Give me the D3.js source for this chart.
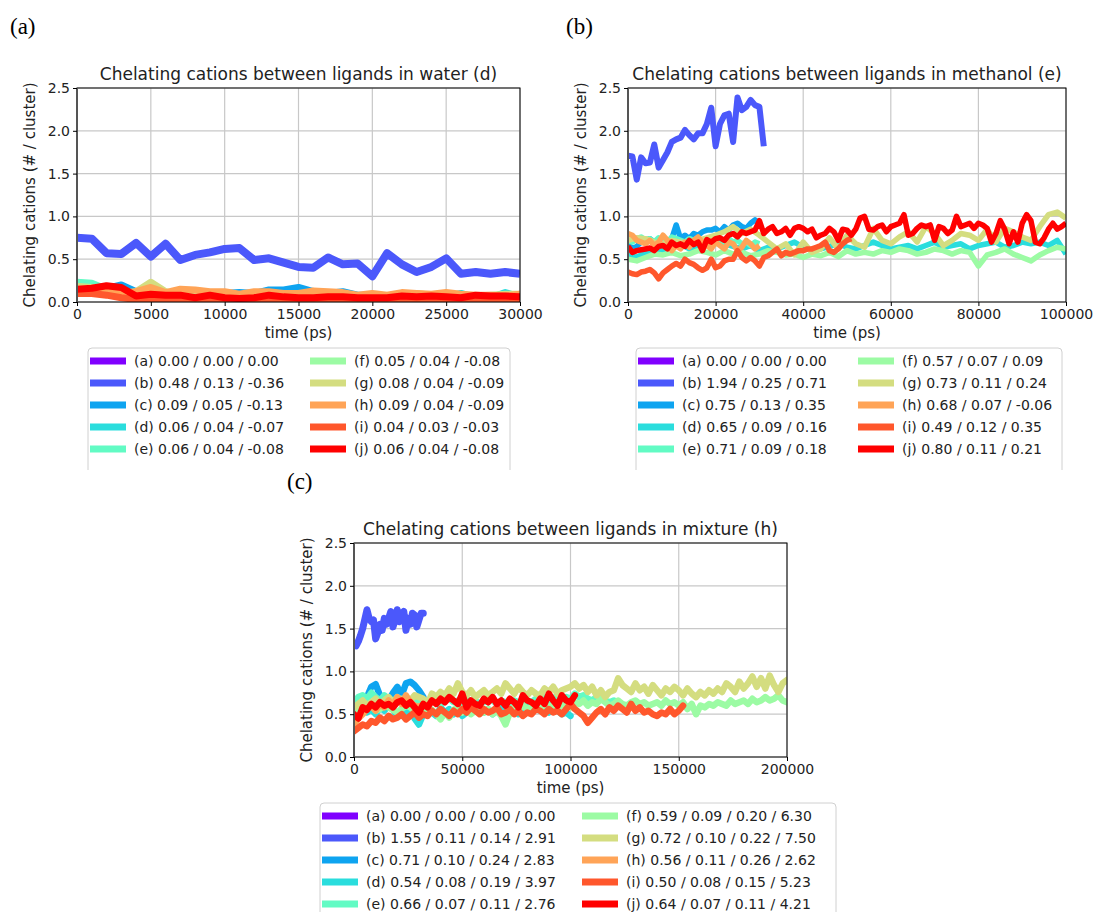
<!DOCTYPE html>
<html>
<head>
<meta charset="utf-8">
<script src="https://d3js.org/d3.v7.min.js"></script>
<style>
  body { margin: 0; background: #fff; }
  text { font-family: "DejaVu Sans", sans-serif; fill: #222; }
</style>
</head>
<body>
<div id="chart"></div>
<script>
// series names and colours (matplotlib "rainbow", 10 steps)
var series = ["a", "b", "c", "d", "e", "f", "g", "h", "i", "j"];
var colors = ["#8000ff", "#4b58fb", "#0ea4f0", "#2adddd", "#62fbc4", "#9cfba4", "#d4dd80", "#ffa457", "#ff572c", "#ff0000"];
var yTicks = [0, 0.5, 1.0, 1.5, 2.0, 2.5];

// legend texts
var legendWater = ["(a) 0.00 / 0.00 / 0.00", "(b) 0.48 / 0.13 / -0.36", "(c) 0.09 / 0.05 / -0.13", "(d) 0.06 / 0.04 / -0.07", "(e) 0.06 / 0.04 / -0.08",
  "(f) 0.05 / 0.04 / -0.08", "(g) 0.08 / 0.04 / -0.09", "(h) 0.09 / 0.04 / -0.09", "(i) 0.04 / 0.03 / -0.03", "(j) 0.06 / 0.04 / -0.08"];
var legendMethanol = ["(a) 0.00 / 0.00 / 0.00", "(b) 1.94 / 0.25 / 0.71", "(c) 0.75 / 0.13 / 0.35", "(d) 0.65 / 0.09 / 0.16", "(e) 0.71 / 0.09 / 0.18",
  "(f) 0.57 / 0.07 / 0.09", "(g) 0.73 / 0.11 / 0.24", "(h) 0.68 / 0.07 / -0.06", "(i) 0.49 / 0.12 / 0.35", "(j) 0.80 / 0.11 / 0.21"];
var legendMixture = ["(a) 0.00 / 0.00 / 0.00 / 0.00", "(b) 1.55 / 0.11 / 0.14 / 2.91", "(c) 0.71 / 0.10 / 0.24 / 2.83", "(d) 0.54 / 0.08 / 0.19 / 3.97", "(e) 0.66 / 0.07 / 0.11 / 2.76",
  "(f) 0.59 / 0.09 / 0.20 / 6.30", "(g) 0.72 / 0.10 / 0.22 / 7.50", "(h) 0.56 / 0.11 / 0.26 / 2.62", "(i) 0.50 / 0.08 / 0.15 / 5.23", "(j) 0.64 / 0.07 / 0.11 / 4.21"];

// ---- water (d): one value every 1000 ps ----
var waterStep = 1000;
var waterA = [];
var waterB = [0.75, 0.74, 0.57, 0.56, 0.69, 0.53, 0.68, 0.49, 0.55, 0.58, 0.62, 0.63, 0.49, 0.51, 0.46, 0.41, 0.40, 0.52, 0.44, 0.45, 0.30, 0.57, 0.44, 0.35, 0.41, 0.51, 0.33, 0.35, 0.33, 0.35, 0.33];
var waterC = [0.20, 0.19, 0.16, 0.20, 0.12, 0.12, 0.10, 0.08, 0.08, 0.09, 0.10, 0.11, 0.10, 0.14, 0.14, 0.17, 0.12, 0.10, 0.12, 0.08, 0.08, 0.07, 0.09, 0.08, 0.07, 0.08, 0.06, 0.07, 0.07, 0.06, 0.07];
var waterD = [0.22, 0.20, 0.14, 0.10, 0.08, 0.07, 0.06, 0.06, 0.05, 0.06, 0.05, 0.06, 0.05, 0.05, 0.04, 0.05, 0.04, 0.05, 0.05, 0.04, 0.05, 0.04, 0.05, 0.06, 0.05, 0.06, 0.10, 0.05, 0.05, 0.11, 0.06];
var waterE = [0.23, 0.22, 0.15, 0.09, 0.06, 0.06, 0.05, 0.05, 0.04, 0.05, 0.05, 0.06, 0.05, 0.04, 0.05, 0.05, 0.06, 0.05, 0.05, 0.04, 0.05, 0.05, 0.06, 0.05, 0.05, 0.04, 0.05, 0.05, 0.06, 0.05, 0.05];
var waterF = [0.18, 0.16, 0.10, 0.06, 0.05, 0.05, 0.04, 0.05, 0.04, 0.05, 0.04, 0.04, 0.05, 0.04, 0.04, 0.05, 0.04, 0.04, 0.05, 0.04, 0.04, 0.05, 0.04, 0.04, 0.05, 0.04, 0.04, 0.05, 0.04, 0.04, 0.05];
var waterG = [0.18, 0.17, 0.15, 0.10, 0.12, 0.23, 0.12, 0.08, 0.07, 0.08, 0.07, 0.06, 0.07, 0.06, 0.06, 0.05, 0.07, 0.06, 0.06, 0.05, 0.07, 0.06, 0.09, 0.10, 0.08, 0.07, 0.06, 0.07, 0.08, 0.09, 0.09];
var waterH = [0.12, 0.12, 0.14, 0.10, 0.12, 0.17, 0.11, 0.15, 0.14, 0.12, 0.12, 0.09, 0.12, 0.12, 0.10, 0.10, 0.13, 0.12, 0.11, 0.08, 0.10, 0.08, 0.11, 0.10, 0.09, 0.11, 0.09, 0.08, 0.08, 0.07, 0.09];
var waterI = [0.10, 0.10, 0.08, 0.05, 0.03, 0.03, 0.02, 0.03, 0.02, 0.03, 0.03, 0.02, 0.02, 0.03, 0.03, 0.04, 0.03, 0.03, 0.02, 0.03, 0.03, 0.04, 0.03, 0.03, 0.04, 0.03, 0.03, 0.04, 0.03, 0.03, 0.03];
var waterJ = [0.15, 0.16, 0.19, 0.17, 0.07, 0.09, 0.08, 0.08, 0.05, 0.08, 0.05, 0.04, 0.05, 0.08, 0.06, 0.05, 0.05, 0.06, 0.06, 0.05, 0.05, 0.05, 0.07, 0.06, 0.07, 0.06, 0.05, 0.08, 0.07, 0.07, 0.06];

// ---- methanol (e) ----
var methStep1 = 1000;   // b, c, e, h, i, j
var methStep2 = 2000;   // d, f, g
var methA = [];
var methB = [1.71, 1.70, 1.43, 1.69, 1.62, 1.63, 1.84, 1.57, 1.66, 1.75, 1.87, 1.90, 1.92, 2.01, 1.95, 1.90, 1.97, 1.97, 2.08, 2.27, 1.82, 2.08, 2.18, 2.20, 1.87, 2.39, 2.24, 2.28, 2.36, 2.30, 2.28, 1.82];
var methC = [0.68, 0.62, 0.65, 0.70, 0.72, 0.74, 0.70, 0.72, 0.75, 0.70, 0.74, 0.90, 0.74, 0.78, 0.74, 0.80, 0.78, 0.82, 0.84, 0.84, 0.86, 0.82, 0.88, 0.84, 0.90, 0.92, 0.88, 0.86, 0.92, 0.96, 0.92];
var methD = [0.55, 0.52, 0.58, 0.62, 0.60, 0.64, 0.68, 0.62, 0.66, 0.70, 0.72, 0.68, 0.65, 0.62, 0.66, 0.60, 0.64, 0.62, 0.66, 0.70, 0.64, 0.60, 0.62, 0.65, 0.68, 0.64, 0.62, 0.66, 0.70, 0.66, 0.62, 0.64, 0.66, 0.62, 0.66, 0.70, 0.64, 0.66, 0.68, 0.62, 0.66, 0.68, 0.70, 0.64, 0.66, 0.70, 0.68, 0.70, 0.66, 0.72, 0.56];
var methE = [0.72, 0.70, 0.74, 0.76, 0.72, 0.74, 0.70, 0.75, 0.72, 0.70, 0.76, 0.74, 0.72, 0.70, 0.74, 0.72, 0.70, 0.68, 0.72, 0.70, 0.68, 0.72, 0.70, 0.74, 0.70, 0.72, 0.68, 0.70, 0.66, 0.70, 0.68];
var methF = [0.50, 0.48, 0.52, 0.56, 0.55, 0.58, 0.54, 0.56, 0.60, 0.58, 0.55, 0.60, 0.56, 0.58, 0.54, 0.56, 0.60, 0.58, 0.55, 0.56, 0.52, 0.56, 0.54, 0.58, 0.53, 0.60, 0.56, 0.58, 0.56, 0.60, 0.58, 0.62, 0.60, 0.56, 0.58, 0.62, 0.60, 0.56, 0.60, 0.58, 0.42, 0.55, 0.58, 0.62, 0.56, 0.52, 0.48, 0.55, 0.60, 0.64, 0.62];
var methG = [0.72, 0.75, 0.74, 0.70, 0.68, 0.72, 0.70, 0.66, 0.72, 0.75, 0.78, 0.82, 0.88, 0.80, 0.85, 0.78, 0.70, 0.62, 0.68, 0.55, 0.70, 0.58, 0.62, 0.75, 0.62, 0.78, 0.68, 0.64, 0.86, 0.72, 0.68, 0.76, 0.82, 0.70, 0.88, 0.80, 0.66, 0.72, 0.80, 0.78, 0.72, 0.85, 0.70, 0.86, 0.82, 0.76, 0.72, 0.88, 1.02, 1.05, 0.98];
var methH = [0.80, 0.78, 0.72, 0.70, 0.68, 0.72, 0.66, 0.70, 0.78, 0.72, 0.60, 0.66, 0.62, 0.70, 0.64, 0.72, 0.76, 0.70, 0.66, 0.62, 0.70, 0.66, 0.62, 0.70, 0.68, 0.60, 0.64, 0.72, 0.68, 0.62, 0.66];
var methI = [0.35, 0.33, 0.32, 0.35, 0.36, 0.38, 0.34, 0.27, 0.34, 0.38, 0.42, 0.45, 0.42, 0.50, 0.46, 0.44, 0.40, 0.37, 0.40, 0.50, 0.40, 0.42, 0.48, 0.50, 0.50, 0.60, 0.52, 0.48, 0.52, 0.48, 0.42, 0.52, 0.54, 0.58, 0.62, 0.54, 0.58, 0.56, 0.58, 0.60, 0.60, 0.62, 0.62, 0.64, 0.66, 0.70, 0.60, 0.58, 0.62, 0.68, 0.72, 0.74];
var methJ = [0.65, 0.58, 0.60, 0.61, 0.62, 0.63, 0.60, 0.65, 0.66, 0.62, 0.70, 0.66, 0.68, 0.65, 0.72, 0.67, 0.70, 0.60, 0.73, 0.70,
  0.74, 0.75, 0.72, 0.78, 0.80, 0.76, 0.82, 0.80, 0.82, 0.84, 0.95, 0.80, 0.85, 0.88, 0.80, 0.82, 0.86, 0.78, 0.86, 0.88,
  0.86, 0.82, 0.85, 0.75, 0.78, 0.80, 0.86, 0.82, 0.72, 0.85, 0.84, 0.78, 0.85, 0.98, 1.00, 0.85, 0.84, 0.88, 0.90, 0.82,
  0.88, 0.90, 0.92, 1.02, 0.78, 0.80, 0.86, 0.90, 0.88, 0.90, 0.72, 0.88, 0.86, 0.80, 0.84, 1.00, 0.88, 0.90, 0.92, 0.86,
  0.92, 0.90, 0.86, 0.70, 0.80, 0.95, 0.85, 0.68, 0.82, 0.70, 0.92, 1.02, 0.95, 0.70, 0.68, 0.75, 0.85, 0.92, 0.85, 0.88, 0.92];

// ---- mixture (h) ----
var mixStep1 = 1000;   // b
var mixStep2 = 2000;   // the rest
var mixA = [];
var mixB = [1.32, 1.30, 1.35, 1.42, 1.50, 1.61, 1.72, 1.62, 1.58, 1.60, 1.38, 1.45, 1.55, 1.48, 1.62, 1.55, 1.62, 1.70, 1.52, 1.60, 1.72, 1.58, 1.66, 1.70, 1.48, 1.62, 1.55, 1.68, 1.66, 1.52, 1.60, 1.68, 1.68];
var mixC = [0.55, 0.60, 0.66, 0.70, 0.82, 0.85, 0.72, 0.70, 0.66, 0.75, 0.82, 0.72, 0.86, 0.88, 0.84, 0.78, 0.70];
var mixD = [0.58, 0.50, 0.55, 0.52, 0.56, 0.50, 0.58, 0.54, 0.60, 0.55, 0.48, 0.56, 0.52, 0.58, 0.45, 0.38, 0.50, 0.55, 0.52, 0.48, 0.58, 0.52, 0.56, 0.50, 0.55, 0.48, 0.52, 0.56, 0.54, 0.58, 0.52, 0.56, 0.50, 0.54, 0.58, 0.52, 0.56, 0.54, 0.50, 0.56, 0.58, 0.52, 0.56, 0.54, 0.58, 0.52, 0.56, 0.54, 0.50, 0.52, 0.48];
var mixE = [0.62, 0.70, 0.72, 0.68, 0.75, 0.70, 0.66, 0.72, 0.68, 0.64, 0.70, 0.66, 0.68, 0.62, 0.66, 0.64, 0.60, 0.66, 0.68, 0.64, 0.62, 0.66, 0.68, 0.64, 0.66, 0.62, 0.68, 0.64, 0.66, 0.62, 0.64, 0.68, 0.66, 0.62, 0.66, 0.64, 0.62, 0.66, 0.64, 0.62, 0.66, 0.64, 0.68, 0.66, 0.70, 0.66, 0.68, 0.72, 0.66, 0.70, 0.68, 0.74, 0.70, 0.72, 0.68, 0.66, 0.70, 0.68, 0.66, 0.64, 0.66];
var mixF = [0.50, 0.55, 0.52, 0.58, 0.60, 0.54, 0.56, 0.60, 0.58, 0.55, 0.52,
  0.56, 0.60, 0.58, 0.54, 0.56, 0.52, 0.58, 0.55, 0.50, 0.44,
  0.52, 0.46, 0.55, 0.58, 0.52, 0.56, 0.50, 0.54, 0.58, 0.52,
  0.56, 0.50, 0.54, 0.48, 0.38, 0.52, 0.58, 0.55, 0.60, 0.56,
  0.58, 0.60, 0.56, 0.62, 0.58, 0.60, 0.56, 0.62, 0.60, 0.58,
  0.64, 0.62, 0.66, 0.60, 0.64, 0.62, 0.68, 0.64, 0.60, 0.62,
  0.66, 0.62, 0.60, 0.64, 0.66, 0.62, 0.64, 0.60, 0.62, 0.64,
  0.60, 0.66, 0.62, 0.64, 0.60, 0.64, 0.56, 0.62, 0.50, 0.60,
  0.58, 0.62, 0.60, 0.64, 0.62, 0.60, 0.66, 0.62, 0.64, 0.66,
  0.62, 0.68, 0.64, 0.66, 0.70, 0.66, 0.68, 0.72, 0.66, 0.64];
var mixG = [0.58, 0.62, 0.66, 0.60, 0.64, 0.68, 0.62, 0.66, 0.70, 0.64, 0.66,
  0.68, 0.64, 0.66, 0.72, 0.70, 0.68, 0.62, 0.74, 0.70, 0.76,
  0.72, 0.80, 0.74, 0.86, 0.76, 0.72, 0.78, 0.70, 0.74, 0.78,
  0.72, 0.76, 0.80, 0.74, 0.86, 0.80, 0.74, 0.82, 0.76, 0.72,
  0.78, 0.74, 0.72, 0.80, 0.76, 0.82, 0.74, 0.78, 0.80, 0.82,
  0.86, 0.80, 0.84, 0.76, 0.82, 0.72, 0.78, 0.70, 0.76, 0.78,
  0.92, 0.84, 0.80, 0.76, 0.86, 0.78, 0.82, 0.74, 0.84, 0.78,
  0.72, 0.80, 0.76, 0.82, 0.78, 0.72, 0.80, 0.74, 0.70, 0.76,
  0.72, 0.78, 0.74, 0.80, 0.76, 0.86, 0.82, 0.76, 0.88, 0.80,
  0.86, 0.94, 0.82, 0.92, 0.80, 0.95, 0.84, 0.76, 0.86, 0.90];
var mixH = [0.38, 0.45, 0.50, 0.56, 0.60, 0.54, 0.62, 0.58, 0.66, 0.60, 0.70, 0.62, 0.72, 0.64, 0.60, 0.58, 0.62];
var mixI = [0.30, 0.34, 0.38, 0.36, 0.42, 0.40, 0.46, 0.42, 0.48, 0.44, 0.46, 0.50, 0.44, 0.48, 0.52, 0.46, 0.50, 0.48, 0.54, 0.50,
  0.56, 0.52, 0.48, 0.54, 0.50, 0.56, 0.52, 0.58, 0.54, 0.50, 0.56, 0.52, 0.54, 0.58, 0.50, 0.52, 0.56, 0.50, 0.54, 0.48,
  0.52, 0.50, 0.56, 0.54, 0.50, 0.56, 0.52, 0.54, 0.50, 0.56, 0.62,
  0.56, 0.52, 0.48, 0.40, 0.46, 0.52, 0.56, 0.50, 0.58, 0.54, 0.60, 0.56, 0.52, 0.62, 0.54, 0.58, 0.52, 0.54, 0.50, 0.48,
  0.52, 0.50, 0.56, 0.50, 0.54, 0.60];
var mixJ = [0.50, 0.45, 0.58, 0.55, 0.62, 0.58, 0.64, 0.60, 0.62, 0.58, 0.64, 0.66, 0.60, 0.64, 0.58, 0.52, 0.62, 0.58, 0.66, 0.62,
  0.68, 0.64, 0.70, 0.66, 0.62, 0.74, 0.58, 0.66, 0.62, 0.60, 0.68, 0.64, 0.70, 0.62, 0.66, 0.60, 0.68, 0.64, 0.58, 0.72,
  0.66, 0.64, 0.60, 0.68, 0.62, 0.74, 0.66, 0.60, 0.72, 0.66, 0.64, 0.72];

var W = 1095, H = 912;
var svg = d3.select("#chart").append("svg")
    .attr("width", W)
    .attr("height", H)
    .style("background", "#fff");

// panel letters
[["(a)", 10, 34], ["(b)", 566, 34], ["(c)", 287, 489]].forEach(function(p){
    svg.append("text")
        .attr("x", p[1]).attr("y", p[2])
        .style("font-family", "'Liberation Serif', 'DejaVu Serif', serif")
        .style("font-size", "23px")
        .style("fill", "#000")
        .text(p[0]);
});

drawPanel({
    left: 77, top: 88, width: 443, height: 214,
    xMax: 30000, xTicks: d3.range(0, 30001, 5000),
    title: "Chelating cations between ligands in water (d)",
    data: [[waterA, waterStep], [waterB, waterStep], [waterC, waterStep], [waterD, waterStep], [waterE, waterStep],
           [waterF, waterStep], [waterG, waterStep], [waterH, waterStep], [waterI, waterStep], [waterJ, waterStep]],
    lineWidth: 7, blueWidth: 8, cap: "butt",
    legend: legendWater, legendX: 88, legendY: 348, legendW: 422, col2: 220
});

drawPanel({
    left: 628, top: 88, width: 438, height: 214,
    xMax: 100000, xTicks: d3.range(0, 100001, 20000),
    title: "Chelating cations between ligands in methanol (e)",
    data: [[methA, methStep1], [methB, methStep1], [methC, methStep1], [methD, methStep2], [methE, methStep1],
           [methF, methStep2], [methG, methStep2], [methH, methStep1], [methI, methStep1], [methJ, methStep1]],
    lineWidth: 5.5, blueWidth: 6, cap: "butt",
    legend: legendMethanol, legendX: 636, legendY: 348, legendW: 426, col2: 220
});

drawPanel({
    left: 354, top: 543, width: 433, height: 214,
    xMax: 200000, xTicks: d3.range(0, 200001, 50000),
    title: "Chelating cations between ligands in mixture (h)",
    data: [[mixA, mixStep2], [mixB, mixStep1], [mixC, mixStep2], [mixD, mixStep2], [mixE, mixStep2],
           [mixF, mixStep2], [mixG, mixStep2], [mixH, mixStep2], [mixI, mixStep2], [mixJ, mixStep2]],
    lineWidth: 6.5, blueWidth: 7, cap: "round",
    legend: legendMixture, legendX: 320, legendY: 803, legendW: 516, col2: 260
});

function drawPanel(cfg){
    var g = svg.append("g").attr("transform", "translate(" + cfg.left + "," + cfg.top + ")");

    var x = d3.scaleLinear().domain([0, cfg.xMax]).range([0, cfg.width]);
    var y = d3.scaleLinear().domain([0, 2.5]).range([cfg.height, 0]);

    // grid
    g.append("g").selectAll("line").data(cfg.xTicks).enter().append("line")
        .attr("x1", function(d){ return x(d); }).attr("x2", function(d){ return x(d); })
        .attr("y1", 0).attr("y2", cfg.height)
        .attr("stroke", "#c8c8c8").attr("stroke-width", 1.2);
    g.append("g").selectAll("line").data(yTicks).enter().append("line")
        .attr("y1", function(d){ return y(d); }).attr("y2", function(d){ return y(d); })
        .attr("x1", 0).attr("x2", cfg.width)
        .attr("stroke", "#c8c8c8").attr("stroke-width", 1.2);

    var clipId = "clip" + cfg.left;
    g.append("clipPath").attr("id", clipId).append("rect")
        .attr("width", cfg.width).attr("height", cfg.height);

    var line = d3.line()
        .x(function(d){ return x(d[0]); })
        .y(function(d){ return y(d[1]); });

    var lines = g.append("g").attr("clip-path", "url(#" + clipId + ")");
    cfg.data.forEach(function(s, i){
        var vals = s[0], step = s[1];
        if (!vals.length) return;
        var pts = vals.map(function(v, k){ return [k * step, v]; });
        lines.append("path")
            .attr("d", line(pts))
            .attr("fill", "none")
            .attr("stroke", colors[i])
            .attr("stroke-width", i == 1 ? cfg.blueWidth : cfg.lineWidth)
            .attr("stroke-linejoin", "round")
            .attr("stroke-linecap", cfg.cap);
    });

    // frame
    g.append("rect").attr("width", cfg.width).attr("height", cfg.height)
        .attr("fill", "none").attr("stroke", "#000").attr("stroke-width", 1);
    g.append("line").attr("x1", 0).attr("x2", 0).attr("y1", 0).attr("y2", cfg.height)
        .attr("stroke", "#555").attr("stroke-width", 2);

    var xAxis = g.append("g").attr("transform", "translate(0," + cfg.height + ")")
        .call(d3.axisBottom(x).tickValues(cfg.xTicks).tickSize(4).tickPadding(3).tickFormat(d3.format("d")));
    var yAxis = g.append("g")
        .call(d3.axisLeft(y).tickValues(yTicks).tickSize(4).tickPadding(3).tickFormat(d3.format(".1f")));
    [xAxis, yAxis].forEach(function(a){
        a.select(".domain").remove();
        a.selectAll("text").style("font-size", "14px").style("font-family", "'DejaVu Sans', sans-serif").attr("fill", "#222");
    });

    g.append("text")
        .attr("x", cfg.width / 2).attr("y", -8)
        .attr("text-anchor", "middle")
        .style("font-size", "17px")
        .text(cfg.title);
    g.append("text")
        .attr("x", cfg.width / 2).attr("y", cfg.height + 36)
        .attr("text-anchor", "middle")
        .style("font-size", "15px")
        .text("time (ps)");
    g.append("text")
        .attr("transform", "translate(-42," + (cfg.height / 2) + ") rotate(-90)")
        .attr("text-anchor", "middle")
        .style("font-size", "15px")
        .text("Chelating cations (# / cluster)");

    // legend (bottom edge is cut off in the figure)
    var lg = svg.append("g").attr("transform", "translate(" + cfg.legendX + "," + cfg.legendY + ")");
    var lh = 122;
    lg.append("path")
        .attr("d", "M0," + lh + "V4Q0,0 4,0H" + (cfg.legendW - 4) + "Q" + cfg.legendW + ",0 " + cfg.legendW + ",4V" + lh)
        .attr("fill", "#fff").attr("stroke", "#d0d0d0").attr("stroke-width", 1);
    var items = lg.selectAll("g.item").data(cfg.legend).enter().append("g")
        .attr("transform", function(d, i){
            return "translate(" + (2 + Math.floor(i / 5) * cfg.col2) + "," + (13 + (i % 5) * 22) + ")";
        });
    items.append("line")
        .attr("x1", 0).attr("x2", 36).attr("y1", 0).attr("y2", 0)
        .attr("stroke", function(d, i){ return colors[i]; })
        .attr("stroke-width", 7);
    items.append("text")
        .attr("x", 44).attr("y", 5)
        .style("font-size", "14px")
        .text(function(d){ return d; });
}
</script>
</body>
</html>
